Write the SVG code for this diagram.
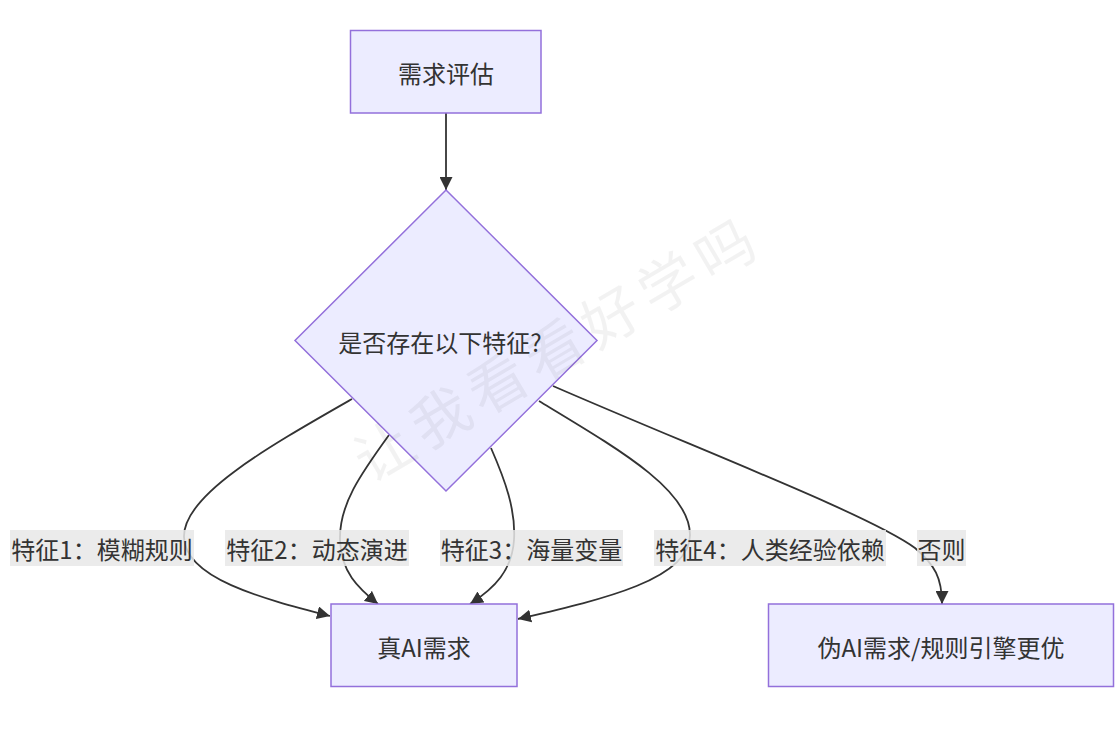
<svg xmlns="http://www.w3.org/2000/svg" width="1120" height="733" viewBox="0 0 1120 733">
<defs>
<style>
.node rect, .node polygon { fill: #ECECFF; stroke: #9370DB; stroke-width: 1.5; }
.t { font-family: "Noto Sans CJK SC", "Noto Sans", sans-serif; font-size: 24px; fill: #333333; text-anchor: middle; dominant-baseline: central; }
.edge { fill: none; stroke: #333333; stroke-width: 1.8; }
.lbl rect { fill: #e8e8e8; fill-opacity: 0.85; }
.wm { font-family: "Noto Sans CJK SC", sans-serif; font-size: 58px; fill: #000000; fill-opacity: 0.05; text-anchor: middle; dominant-baseline: central; letter-spacing: 8px; }
</style>
<marker id="arrow" viewBox="0 0 10 10" refX="10" refY="5" markerUnits="userSpaceOnUse" markerWidth="13" markerHeight="13" orient="auto">
<path d="M0,0 L10,5 L0,10 z" fill="#333333"/>
</marker>
</defs>
<rect width="1120" height="733" fill="#ffffff"/>
<g id="connectors">
<path class="edge" d="M446,113 L446,190" marker-end="url(#arrow)"/>
<path class="edge" d="M352,399 C268,447 183,495 184,537 C185,578 260,598 330,616" marker-end="url(#arrow)"/>
<path class="edge" d="M389,435 C360,475 339,505 340,540 C341,572 358,588 378,604" marker-end="url(#arrow)"/>
<path class="edge" d="M491,448 C505,480 516,510 514,540 C512,570 495,588 470,604" marker-end="url(#arrow)"/>
<path class="edge" d="M539,401 C620,450 690,490 690,535 C690,580 600,600 518,619" marker-end="url(#arrow)"/>
<path class="edge" d="M553,386 C700,450 870,515 915,548 C935,565 942,578 942,604" marker-end="url(#arrow)"/>
</g>
<g id="edge-labels">
<g class="lbl" id="label-f1"><rect x="10" y="530" width="184" height="36"/><text class="t" x="102" y="548">特征1：模糊规则</text></g>
<g class="lbl" id="label-f2"><rect x="225" y="530" width="184" height="36"/><text class="t" x="317" y="548">特征2：动态演进</text></g>
<g class="lbl" id="label-f3"><rect x="440" y="530" width="183" height="36"/><text class="t" x="531.5" y="548">特征3：海量变量</text></g>
<g class="lbl" id="label-f4"><rect x="654" y="530" width="232" height="36"/><text class="t" x="770" y="548">特征4：人类经验依赖</text></g>
<g class="lbl" id="label-else"><rect x="917" y="530" width="49" height="36"/><text class="t" x="941.5" y="548">否则</text></g>
</g>
<g class="node" id="node-assess">
<rect x="350.5" y="30.5" width="190.5" height="82.5"/>
<text class="t" x="446" y="72">需求评估</text>
</g>
<g class="node" id="node-decision">
<polygon points="446,190 597,340.5 446,491 295,340.5"/>
<text class="t" x="440" y="341">是否存在以下特征?</text>
</g>
<g class="node" id="node-real">
<rect x="331" y="604" width="186" height="82.5"/>
<text class="t" x="424" y="646">真AI需求</text>
</g>
<g class="node" id="node-fake">
<rect x="768.5" y="604" width="345" height="82.5"/>
<text class="t" x="941" y="646">伪AI需求/规则引擎更优</text>
</g>
<text class="wm" x="556" y="345" transform="rotate(-30.5 556 345)">让我看看好学吗</text>
</svg>
